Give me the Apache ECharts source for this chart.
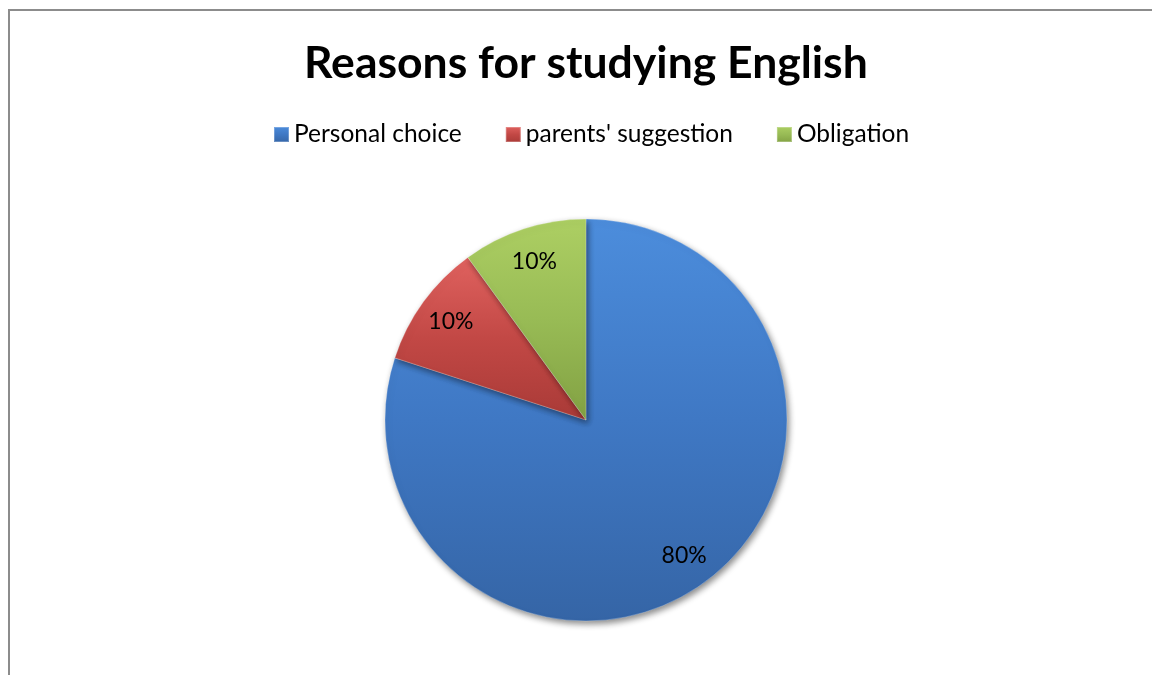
<!DOCTYPE html>
<html>
<head>
<meta charset="utf-8">
<script src="https://cdn.jsdelivr.net/npm/echarts@6/dist/echarts.min.js"></script>
<style>
  html, body { margin: 0; padding: 0; background: #ffffff; }
  #chart { width: 1152px; height: 675px; }
</style>
</head>
<body>
<div id="chart"></div>
<script>
// Survey answers: why students study English
const categories = ['Personal choice', "parents' suggestion", 'Obligation'];
const shares = [80, 10, 10];
const labelTexts = ['80%', '10%', '10%'];

// Office-style base colours with a lighter top / darker bottom sheen
const palette = [
  ['#4c8ddc', '#3f78c4', '#3565a6'],
  ['#e0625f', '#c24845', '#a93a37'],
  ['#adcf63', '#98bb55', '#82a143']
];

function sheen(c) {
  return new echarts.graphic.LinearGradient(0, 0, 0, 1, [
    { offset: 0, color: c[0] },
    { offset: 0.5, color: c[1] },
    { offset: 1, color: c[2] }
  ]);
}

const slices = categories.map((name, i) => ({
  name: name,
  value: shares[i],
  itemStyle: { color: sheen(palette[i]) }
}));

const labelSlices = categories.map((name, i) => ({
  name: name,
  value: shares[i],
  label: { formatter: labelTexts[i] }
}));

const chart = echarts.init(document.getElementById('chart'), null, { renderer: 'canvas' });

chart.setOption({
  backgroundColor: '#ffffff',
  animation: false,
  title: {
    text: 'Reasons for studying English',
    left: 299,
    top: 36,
    textStyle: {
      fontFamily: 'Lato',
      fontWeight: 'bold',
      fontSize: 44.5,
      color: '#000000'
    }
  },
  legend: {
    data: categories,
    top: 117,
    left: 268,
    itemWidth: 15,
    itemHeight: 15,
    itemGap: 43,
    icon: 'rect',
    textStyle: {
      fontFamily: 'Lato',
      fontSize: 24.5,
      color: '#000000',
      padding: [0, 0, 0, 0]
    }
  },
  graphic: [{
    type: 'rect',
    shape: { x: 9, y: 10, width: 1160, height: 700 },
    style: { fill: 'none', stroke: '#8c8c8c', lineWidth: 2 },
    z: -1,
    silent: true
  }],
  series: [
    {
      type: 'pie',
      center: [586, 420],
      radius: [0, 201],
      startAngle: 90,
      clockwise: true,
      label: { show: false },
      labelLine: { show: false },
      itemStyle: {
        borderColor: 'rgba(255,255,255,0.25)',
        borderWidth: 1,
        shadowBlur: 6,
        shadowOffsetX: 2,
        shadowOffsetY: 3,
        shadowColor: 'rgba(0,0,0,0.45)'
      },
      data: slices
    },
    {
      // invisible ring used only to place the percentage labels
      type: 'pie',
      center: [586, 420],
      radius: [0, 328],
      startAngle: 90,
      clockwise: true,
      silent: true,
      legendHoverLink: false,
      itemStyle: { color: 'rgba(0,0,0,0)', borderWidth: 0 },
      label: {
        show: true,
        position: 'inside',
        fontFamily: 'Lato',
        fontSize: 23,
        color: '#000000'
      },
      labelLine: { show: false },
      data: labelSlices
    }
  ]
});
</script>
</body>
</html>
